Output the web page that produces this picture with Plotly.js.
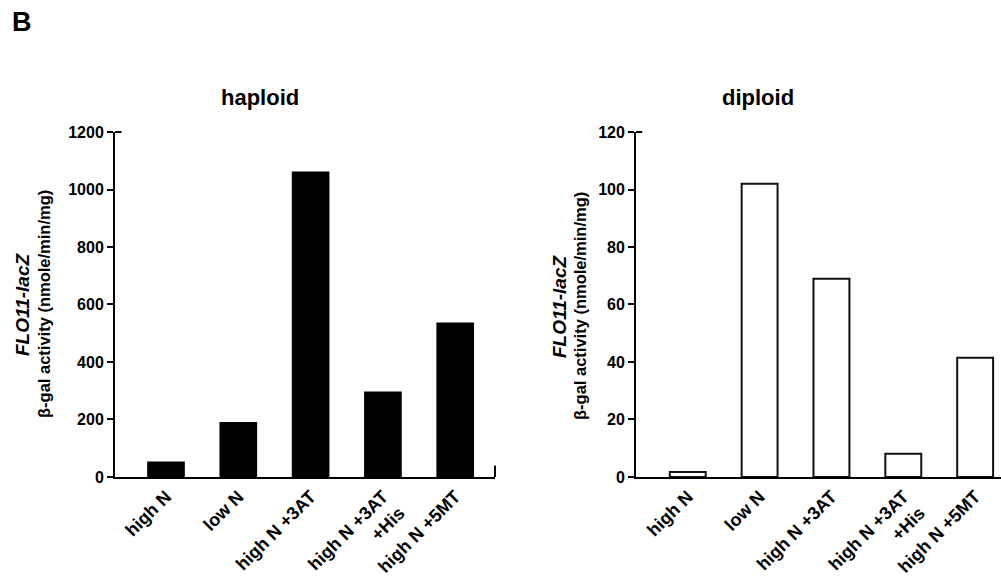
<!DOCTYPE html>
<html>
<head>
<meta charset="utf-8">
<script src="https://cdn.plot.ly/plotly-3.0.1.min.js"></script>
<style>html,body{margin:0;padding:0;background:#fff;}#chart{width:1001px;height:576px;}</style>
</head>
<body>
<div id="chart"></div>
<script>
// ---- data ----
const categories = ['high N', 'low N', 'high N +3AT', 'high N +3AT<br>+His', 'high N +5MT'];
const catIndex = [0, 1, 2, 3, 4];
const haploidValues = [51, 189, 1060, 295, 535];
const diploidValues = [1.7, 102, 69, 8.1, 41.5];
const haploidTicks = [0, 200, 400, 600, 800, 1000, 1200];
const diploidTicks = [0, 20, 40, 60, 80, 100, 120];
const panelTitles = ['haploid', 'diploid'];
const yTitleLine1 = 'FLO11-lacZ';
const yTitleLine2 = 'β-gal activity (nmole/min/mg)';

const FONT = 'Liberation Sans, Arial, Helvetica, sans-serif';

const traces = [
  {
    type: 'bar', x: catIndex, y: haploidValues, xaxis: 'x', yaxis: 'y',
    width: 0.5,
    marker: {color: '#000', line: {color: '#000', width: 1.5}},
    hoverinfo: 'skip', showlegend: false
  },
  {
    type: 'bar', x: catIndex, y: diploidValues, xaxis: 'x2', yaxis: 'y2',
    width: 0.5,
    marker: {color: '#fff', line: {color: '#111', width: 2}},
    hoverinfo: 'skip', showlegend: false
  }
];

const yTickFont = {family: FONT, size: 16, color: '#000', weight: 700};
const xTickFont = {family: FONT, size: 18, color: '#000', weight: 700};

function xAx(domain, range, anchor) {
  return {
    domain: domain, range: range, anchor: anchor,
    tickvals: catIndex, ticktext: categories, tickangle: -45,
    ticks: '', showline: true, linecolor: '#000', linewidth: 2,
    showgrid: false, zeroline: false, tickfont: xTickFont, fixedrange: true
  };
}
function yAx(range, ticks, anchor) {
  return {
    domain: [0.1719, 0.7708], range: range, anchor: anchor,
    tickvals: ticks, ticktext: ticks.map(String),
    ticks: 'outside', ticklen: 6, tickwidth: 2, tickcolor: '#000',
    showline: true, linecolor: '#000', linewidth: 2,
    showgrid: false, zeroline: false, tickfont: yTickFont, fixedrange: true
  };
}

const layout = {
  width: 1001, height: 576,
  margin: {l: 0, r: 0, t: 0, b: 0},
  paper_bgcolor: '#fff', plot_bgcolor: '#fff',
  bargap: 0,
  xaxis: xAx([0.1149, 0.4945], [-0.705, 4.55], 'y'),
  yaxis: yAx([0, 1200], haploidTicks, 'x'),
  xaxis2: xAx([0.6354, 1.0], [-0.72, 4.36], 'y2'),
  yaxis2: yAx([0, 120], diploidTicks, 'x2'),
  shapes: [
    {type: 'line', xref: 'x domain', yref: 'y domain', x0: 0, x1: 0.017, y0: 1, y1: 1, line: {color: '#000', width: 2}},
    {type: 'line', xref: 'x domain', yref: 'y domain', x0: 1, x1: 1, y0: 0, y1: 0.033, line: {color: '#000', width: 2}},
    {type: 'line', xref: 'x2 domain', yref: 'y2 domain', x0: 0, x1: 0.017, y0: 1, y1: 1, line: {color: '#000', width: 2}}
  ],
  annotations: [
    {text: 'B', xref: 'paper', yref: 'paper', x: 10 / 1001, y: 1 - 22 / 576, xanchor: 'left', yanchor: 'middle', showarrow: false,
     font: {family: FONT, size: 27, color: '#000', weight: 700}},
    {text: panelTitles[0], xref: 'paper', yref: 'paper', x: 260 / 1001, y: 1 - 98 / 576, xanchor: 'center', yanchor: 'middle', showarrow: false,
     font: {family: FONT, size: 22, color: '#000', weight: 700}},
    {text: panelTitles[1], xref: 'paper', yref: 'paper', x: 758 / 1001, y: 1 - 98 / 576, xanchor: 'center', yanchor: 'middle', showarrow: false,
     font: {family: FONT, size: 22, color: '#000', weight: 700}},
    {text: '<i>' + yTitleLine1 + '</i>', xref: 'paper', yref: 'paper', x: 22 / 1001, y: 1 - 305 / 576, xanchor: 'center', yanchor: 'middle', textangle: -90, showarrow: false,
     font: {family: FONT, size: 19, color: '#000', weight: 700}},
    {text: yTitleLine2, xref: 'paper', yref: 'paper', x: 44 / 1001, y: 1 - 304 / 576, xanchor: 'center', yanchor: 'middle', textangle: -90, showarrow: false,
     font: {family: FONT, size: 16.5, color: '#000', weight: 700}},
    {text: '<i>' + yTitleLine1 + '</i>', xref: 'paper', yref: 'paper', x: 559 / 1001, y: 1 - 307 / 576, xanchor: 'center', yanchor: 'middle', textangle: -90, showarrow: false,
     font: {family: FONT, size: 19, color: '#000', weight: 700}},
    {text: yTitleLine2, xref: 'paper', yref: 'paper', x: 580 / 1001, y: 1 - 306 / 576, xanchor: 'center', yanchor: 'middle', textangle: -90, showarrow: false,
     font: {family: FONT, size: 16.5, color: '#000', weight: 700}}
  ]
};

Plotly.newPlot('chart', traces, layout, {staticPlot: true, displayModeBar: false});
</script>
</body>
</html>
